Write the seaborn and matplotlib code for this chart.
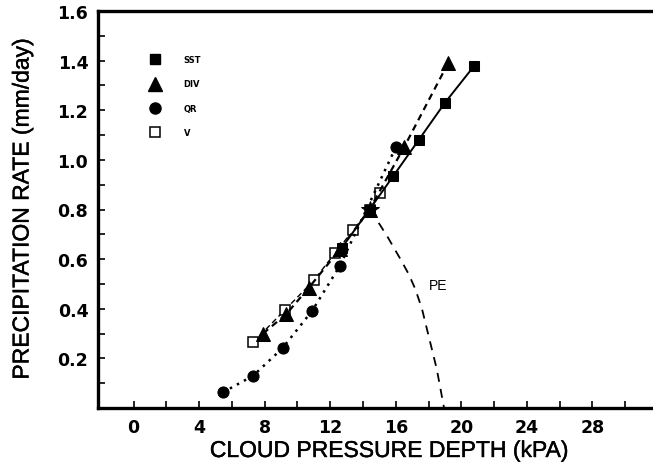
import matplotlib
matplotlib.use("Agg")
import matplotlib.pyplot as plt
import matplotlib.patheffects as pe
from matplotlib.lines import Line2D
from matplotlib.ticker import FixedLocator
import seaborn as sns

# Precipitation rate versus cloud pressure depth for each sensitivity series
sst_depth = [12.7, 14.4, 15.85, 17.4, 19.0, 20.8]
sst_rate = [0.645, 0.80, 0.935, 1.08, 1.23, 1.38]

div_depth = [7.9, 9.3, 10.7, 12.6, 14.4, 16.5, 19.2]
div_rate = [0.30, 0.377, 0.485, 0.64, 0.80, 1.05, 1.39]

qr_depth = [5.45, 7.3, 9.1, 10.9, 12.6, 16.0]
qr_rate = [0.063, 0.13, 0.242, 0.392, 0.574, 1.05]

v_depth = [7.3, 9.25, 11.0, 12.3, 13.4, 14.4, 15.05]
v_rate = [0.265, 0.396, 0.514, 0.625, 0.716, 0.80, 0.868]

# precipitation-efficiency curve
pe_depth = [14.4, 15.05, 15.56, 16.27, 16.78, 17.19, 17.6, 17.9, 18.5, 18.95]
pe_rate = [0.80, 0.737, 0.683, 0.602, 0.541, 0.48, 0.40, 0.319, 0.158, 0.0]

x_ticks = [0, 4, 8, 12, 16, 20, 24, 28]
x_minor = [2, 6, 10, 14, 18, 22, 26, 30]
y_ticks = [0.2, 0.4, 0.6, 0.8, 1.0, 1.2, 1.4, 1.6]
y_minor = [0.1, 0.3, 0.5, 0.7, 0.9, 1.1, 1.3, 1.5]
series_labels = ["SST", "DIV", "QR", "V"]

sns.set_style("ticks")
plt.rcParams["font.family"] = ["Liberation Sans", "DejaVu Sans"]
for key in ("text.color", "axes.labelcolor", "xtick.color", "ytick.color",
            "axes.edgecolor"):
    plt.rcParams[key] = "black"

fig = plt.figure(figsize=(6.53, 4.77), dpi=100)
ax = fig.add_axes([98 / 653, 1 - 409 / 477, 555 / 653, 397 / 477])

common = dict(ax=ax, color="black", estimator=None, sort=False, legend=False)

sns.lineplot(x=v_depth, y=v_rate, linewidth=1.0, linestyle=(0, (4, 2.5)),
             marker="s", markersize=6.5, markerfacecolor="white",
             markeredgecolor="black", markeredgewidth=1.1, **common)
sns.lineplot(x=qr_depth, y=qr_rate, linewidth=1.8, linestyle=(0, (1, 2.2)),
             marker="o", markersize=8, markeredgecolor="black", **common)
sns.lineplot(x=div_depth, y=div_rate, linewidth=1.6, linestyle=(0, (3, 2.2)),
             marker="^", markersize=10, markeredgecolor="black", **common)
sns.lineplot(x=sst_depth, y=sst_rate, linewidth=1.4, marker="s",
             markersize=7.5, markeredgecolor="black", **common)
sns.lineplot(x=pe_depth, y=pe_rate, linewidth=1.3, linestyle=(0, (5, 4)),
             marker="*", markevery=[0], markersize=13,
             markeredgecolor="black", **common)

heavy = [pe.withStroke(linewidth=0.3, foreground="black")]

ax.text(18.05, 0.494, "PE", fontsize=10, ha="left", va="center")

ax.set_xlim(-2.17, 31.7)
ax.set_ylim(0, 1.6)
ax.xaxis.set_major_locator(FixedLocator(x_ticks))
ax.xaxis.set_minor_locator(FixedLocator(x_minor))
ax.yaxis.set_major_locator(FixedLocator(y_ticks))
ax.yaxis.set_minor_locator(FixedLocator(y_minor))
ax.set_xticklabels([str(t) for t in x_ticks])
ax.set_yticklabels([f"{t:.1f}" for t in y_ticks])

for lab in ax.get_xticklabels() + ax.get_yticklabels():
    lab.set_fontfamily("DejaVu Sans")
    lab.set_fontweight("bold")
    lab.set_fontsize(12.5)

ax.tick_params(which="both", direction="in", length=5, width=1.2,
               top=False, right=False, colors="black")
ax.tick_params(axis="x", pad=7)
ax.tick_params(axis="y", pad=7)

for side in ("left", "top", "bottom"):
    ax.spines[side].set_linewidth(2.4)
    ax.spines[side].set_color("black")
ax.spines["right"].set_visible(False)

ax.set_xlabel("CLOUD PRESSURE DEPTH (kPA)", fontsize=16.5, va="center",
              color="black", path_effects=heavy)
ax.xaxis.set_label_coords((388.5 - 98) / 555, (409 - 451.5) / 397)
ax.set_ylabel("PRECIPITATION RATE (mm/day)", fontsize=16.5, va="center",
              color="black", path_effects=heavy)
ax.yaxis.set_label_coords((22 - 98) / 555, 0.5)

handles = [
    Line2D([], [], linestyle="none", marker="s", markersize=7, color="black"),
    Line2D([], [], linestyle="none", marker="^", markersize=10, color="black"),
    Line2D([], [], linestyle="none", marker="o", markersize=8, color="black"),
    Line2D([], [], linestyle="none", marker="s", markersize=7,
           markerfacecolor="white", markeredgecolor="black",
           markeredgewidth=1.1),
]
ax.legend(handles, series_labels, loc="upper left",
          bbox_to_anchor=(151 / 653, 1 - 56 / 477),
          bbox_transform=fig.transFigure, frameon=False, borderpad=0,
          borderaxespad=0, handlelength=1.0, handletextpad=2.9,
          labelspacing=1.85, prop={"family": "DejaVu Sans",
                                   "weight": "bold", "size": 6})

fig.savefig("out.png", dpi=100, facecolor="white")
